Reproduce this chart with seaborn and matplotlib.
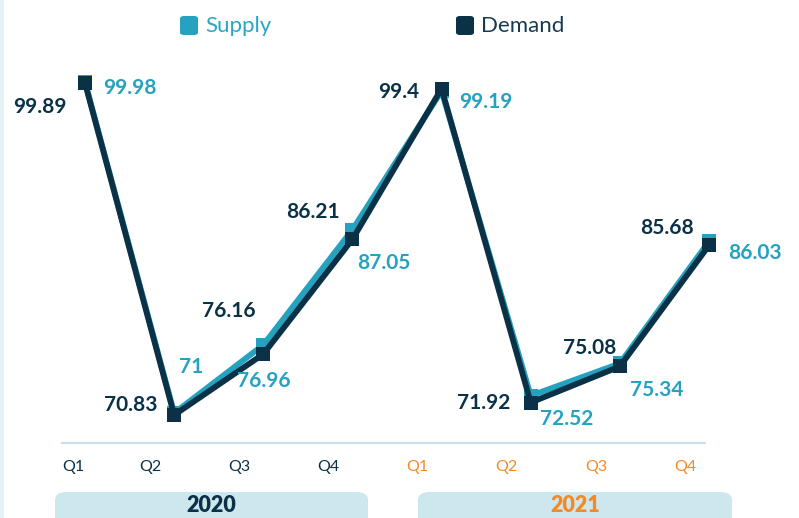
import matplotlib
matplotlib.use("Agg")
import matplotlib.pyplot as plt
import numpy as np
import pandas as pd
import seaborn as sns
from matplotlib.patches import FancyBboxPatch
from matplotlib.lines import Line2D

quarters = ["Q1", "Q2", "Q3", "Q4", "Q1", "Q2", "Q3", "Q4"]
years = ["2020", "2021"]
supply = [99.98, 71, 76.96, 87.05, 99.19, 72.52, 75.34, 86.03]
demand = [99.89, 70.83, 76.16, 86.21, 99.4, 71.92, 75.08, 85.68]

TEAL = "#25a2c0"
NAVY = "#0b3147"
ORANGE = "#f58a25"
BOX = "#cde7ee"

sns.set_theme(style="white")
plt.rcParams["font.family"] = ["Lato", "DejaVu Sans"]

W, H = 799, 518
fig = plt.figure(figsize=(W / 100, H / 100), dpi=100)
# axes in pixel box: x 62..705, y 60..443
x0, x1, ytop, ybot = 62, 705, 60, 443
ax = fig.add_axes([x0 / W, 1 - ybot / H, (x1 - x0) / W, (ybot - ytop) / H])

idx = np.arange(len(quarters))
df = pd.DataFrame({
    "idx": np.concatenate([idx, idx]),
    "value": supply + demand,
    "series": ["Supply"] * len(idx) + ["Demand"] * len(idx),
})
sns.lineplot(data=df, x="idx", y="value", hue="series",
             hue_order=["Supply", "Demand"], palette=[TEAL, NAVY],
             marker="s", markersize=10, markeredgewidth=0, linewidth=4.2,
             legend=False, ax=ax)
for ln in ax.lines:
    ln.set_clip_on(False)

ax.set_xlim(-23 / 89.1, 7 - 4 / 89.1)
y_per_px = (99.89 - 70.83) / 332
ax.set_ylim(70.83 - 28 * y_per_px, 99.89 + 23 * y_per_px)
ax.set_xticks([])
ax.set_yticks([])
ax.set_xlabel("")
ax.set_ylabel("")
for s in ["top", "right", "left"]:
    ax.spines[s].set_visible(False)
ax.spines["bottom"].set_color("#c9dee7")
ax.spines["bottom"].set_linewidth(1.5)

# data labels (pixel offsets from each point)
dem_off = [(-45, -24), (-43, 10), (-34, 43), (-39, 27), (-43, -3), (-47, 0), (-30, 18), (-42, 17)]
sup_off = [(45, -6), (17, 46), (1, -36), (31, -33), (44, -11), (36, -23), (37, -27), (46, -12)]
for i in idx:
    ax.annotate(f"{demand[i]:g}", (i, demand[i]), xytext=dem_off[i], textcoords="offset pixels",
                ha="center", va="center", color=NAVY, fontsize=15, fontweight="bold",
                annotation_clip=False)
    ax.annotate(f"{supply[i]:g}", (i, supply[i]), xytext=sup_off[i], textcoords="offset pixels",
                ha="center", va="center", color=TEAL, fontsize=15, fontweight="bold",
                annotation_clip=False)

# quarter labels, shifted left of points
for i, q in enumerate(quarters):
    shift = -12 if i == 0 else -24
    ax.annotate(q, (i, 0), xycoords=("data", "figure pixels"), xytext=(shift, H - 467),
                textcoords=("offset pixels", "figure pixels"), ha="center", va="center",
                fontsize=11.5, color=NAVY if i < 4 else ORANGE, annotation_clip=False)

# year boxes
for (bx0, bx1), yr, col in zip([(55, 368), (418, 732)], years, [NAVY, ORANGE]):
    box = FancyBboxPatch((bx0 / W, (H - 530) / H), (bx1 - bx0) / W, 38 / H,
                         boxstyle="round,pad=0,rounding_size=0.015",
                         transform=fig.transFigure, facecolor=BOX, edgecolor="none")
    fig.patches.append(box)
    fig.text((bx0 + bx1) / 2 / W, 1 - 505 / H, yr, ha="center", va="center",
             fontsize=15.5, fontweight="heavy", color=col)

# left edge line
fig.add_artist(Line2D([2 / W, 2 / W], [0, 1], transform=fig.transFigure,
                      color="#e4f3f8", linewidth=3))

# legend
for sx, label, mc, tc in [(189, "Supply", TEAL, "#2ba6c4"), (465, "Demand", NAVY, "#173c52")]:
    fig.add_artist(FancyBboxPatch(((sx - 9) / W, 1 - 35 / H), 18 / W, 19 / H,
                                  boxstyle="round,pad=0,rounding_size=0.005",
                                  transform=fig.transFigure, facecolor=mc, edgecolor="none"))
    fig.text((sx + 16) / W, 1 - 26 / H, label, ha="left", va="center",
             fontsize=16, color=tc)

fig.savefig("out.png", dpi=100)
